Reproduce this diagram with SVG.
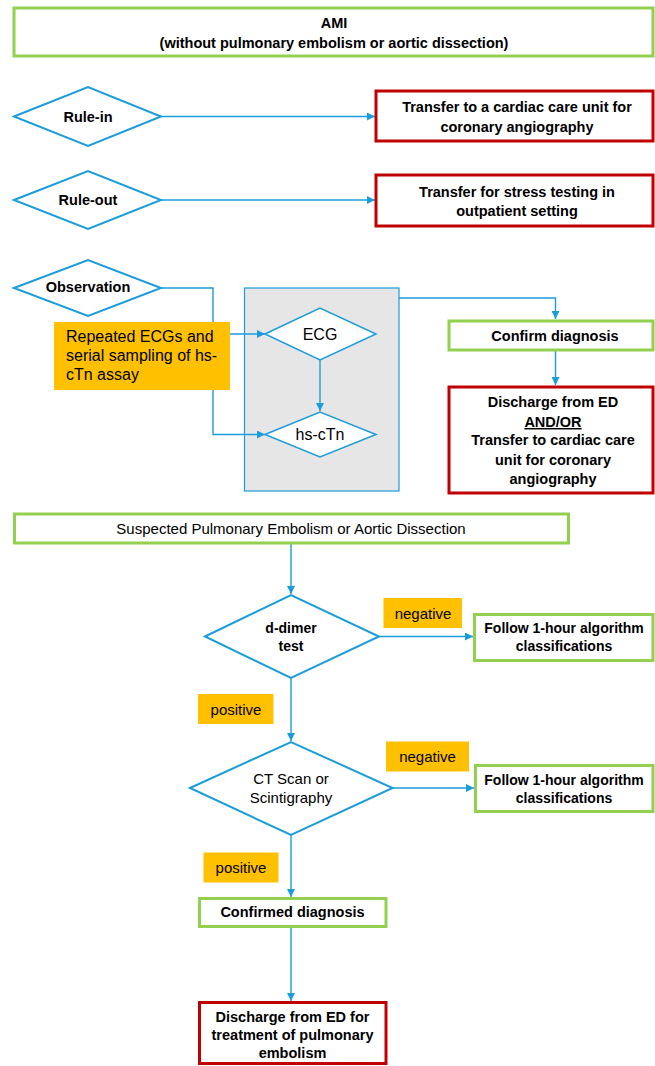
<svg xmlns="http://www.w3.org/2000/svg" width="655" height="1066" viewBox="0 0 655 1066">
<defs>
<marker id="ah" viewBox="0 0 10 10" refX="10" refY="5" markerWidth="8" markerHeight="8" markerUnits="userSpaceOnUse" orient="auto">
<path d="M0,0 L10,5 L0,10 z" fill="#1B9CDB"/>
</marker>
<style>
text{font-family:"Liberation Sans",Arial,sans-serif;fill:#000;text-anchor:middle}
.b{font-weight:bold;font-size:14.5px}
.b14{font-weight:bold;font-size:14px}
.r{font-size:15px}
.r16{font-size:16px}
.green{fill:#fff;stroke:#92D050;stroke-width:3}
.red{fill:#fff;stroke:#C00000;stroke-width:3}
.dia{fill:#fff;stroke:#1B9CDB;stroke-width:2}
.orange{fill:#FFC000;stroke:none}
.con{fill:none;stroke:#1B9CDB;stroke-width:1.4}
.arr{marker-end:url(#ah)}
</style>
</defs>
<rect width="655" height="1066" fill="#fff"/>

<g id="monitor-box">
<rect x="244.5" y="288" width="154.5" height="203" fill="#E6E6E6" stroke="#1B9CDB" stroke-width="1.2"/>
</g>

<g id="connectors">
<path class="con arr" d="M161,116.5 H375"/>
<path class="con arr" d="M161,200 H375"/>
<path class="con arr" d="M161,288 H213 V434.5 H265"/>
<path class="con arr" d="M230,334 H265"/>
<path class="con arr" d="M320,360 V411"/>
<path class="con arr" d="M399,298 H555.5 V319"/>
<path class="con arr" d="M555.5,350 V385"/>
<path class="con arr" d="M291,543 V594"/>
<path class="con arr" d="M379,636.5 H473"/>
<path class="con arr" d="M291,678 V741"/>
<path class="con arr" d="M392.6,788 H474"/>
<path class="con arr" d="M291,835 V897"/>
<path class="con arr" d="M291,927 V1001"/>
</g>

<g id="ami">
<rect class="green" x="14" y="8" width="639" height="48"/>
<text class="b" x="334" y="28">AMI</text>
<text class="b" x="334" y="48">(without pulmonary embolism or aortic dissection)</text>
</g>

<g id="rule-in">
<polygon class="dia" points="14,116.5 88,87 161,116.5 88,146"/>
<text class="b" x="88" y="121.5">Rule-in</text>
</g>
<g id="transfer-cardiac">
<rect class="red" x="376" y="91" width="277" height="50"/>
<text class="b" x="517" y="112">Transfer to a cardiac care unit for</text>
<text class="b" x="517" y="132">coronary angiography</text>
</g>

<g id="rule-out">
<polygon class="dia" points="14,200 88,171 161,200 88,229"/>
<text class="b" x="88" y="205">Rule-out</text>
</g>
<g id="transfer-stress">
<rect class="red" x="376" y="175" width="277" height="51"/>
<text class="b" x="517" y="197">Transfer for stress testing in</text>
<text class="b" x="517" y="216">outpatient setting</text>
</g>

<g id="observation">
<polygon class="dia" points="14,288 88,260 161,288 88,316"/>
<text class="b" x="88" y="292">Observation</text>
</g>

<g id="repeated">
<rect class="orange" x="54" y="322" width="176" height="68"/>
<text class="r16" x="66" y="342" style="text-anchor:start">Repeated ECGs and</text>
<text class="r16" x="66" y="361" style="text-anchor:start">serial sampling of hs-</text>
<text class="r16" x="66" y="380" style="text-anchor:start">cTn assay</text>
</g>

<g id="ecg">
<polygon class="dia" points="265,334 320,308 376,334 320,360" style="stroke-width:1.5"/>
<text class="r16" x="320" y="339.5">ECG</text>
</g>
<g id="hs-ctn">
<polygon class="dia" points="265,434.5 320,412 376,434.5 320,457" style="stroke-width:1.5"/>
<text class="r16" x="320" y="440">hs-cTn</text>
</g>

<g id="confirm-diagnosis">
<rect class="green" x="449" y="321" width="204" height="29"/>
<text class="b" x="555" y="341">Confirm diagnosis</text>
</g>
<g id="discharge-ed">
<rect class="red" x="449" y="387" width="204" height="106"/>
<text class="b" x="553" y="407">Discharge from ED</text>
<text class="b" x="553" y="427" text-decoration="underline">AND/OR</text>
<text class="b" x="553" y="445">Transfer to cardiac care</text>
<text class="b" x="553" y="464.5">unit for coronary</text>
<text class="b" x="553" y="484">angiography</text>
</g>

<g id="suspected">
<rect class="green" x="14.5" y="514" width="554" height="29"/>
<text class="r" x="291" y="534">Suspected Pulmonary Embolism or Aortic Dissection</text>
</g>

<g id="d-dimer">
<polygon class="dia" points="205,636.5 291,595 379,636.5 291,678"/>
<text class="b14" x="291" y="633">d-dimer</text>
<text class="b14" x="291" y="651">test</text>
</g>
<g id="negative-1">
<rect class="orange" x="383.5" y="598" width="78.5" height="30"/>
<text class="r" x="423" y="619">negative</text>
</g>
<g id="follow-1">
<rect class="green" x="474.5" y="614.5" width="178.5" height="46"/>
<text class="b14" x="564" y="633">Follow 1-hour algorithm</text>
<text class="b14" x="564" y="651">classifications</text>
</g>

<g id="positive-1">
<rect class="orange" x="198" y="694" width="75.5" height="30"/>
<text class="r" x="236" y="715">positive</text>
</g>

<g id="ct-scan">
<polygon class="dia" points="190,788 291,742 392.6,788 291,835"/>
<text class="r" x="291" y="784">CT Scan or</text>
<text class="r" x="291" y="802.5">Scintigraphy</text>
</g>
<g id="negative-2">
<rect class="orange" x="386" y="741.5" width="83" height="30"/>
<text class="r" x="427.5" y="762">negative</text>
</g>
<g id="follow-2">
<rect class="green" x="475.5" y="765.5" width="177.5" height="46"/>
<text class="b14" x="564" y="785">Follow 1-hour algorithm</text>
<text class="b14" x="564" y="802.5">classifications</text>
</g>

<g id="positive-2">
<rect class="orange" x="203.5" y="852.5" width="75" height="30"/>
<text class="r" x="241" y="873">positive</text>
</g>

<g id="confirmed-diagnosis">
<rect class="green" x="199.5" y="898.5" width="186.5" height="28"/>
<text class="b" x="292.5" y="917">Confirmed diagnosis</text>
</g>
<g id="discharge-treatment">
<rect class="red" x="199.5" y="1002.5" width="186.5" height="61"/>
<text class="b" x="292.5" y="1021.5">Discharge from ED for</text>
<text class="b" x="292.5" y="1040">treatment of pulmonary</text>
<text class="b" x="292.5" y="1058">embolism</text>
</g>
</svg>
